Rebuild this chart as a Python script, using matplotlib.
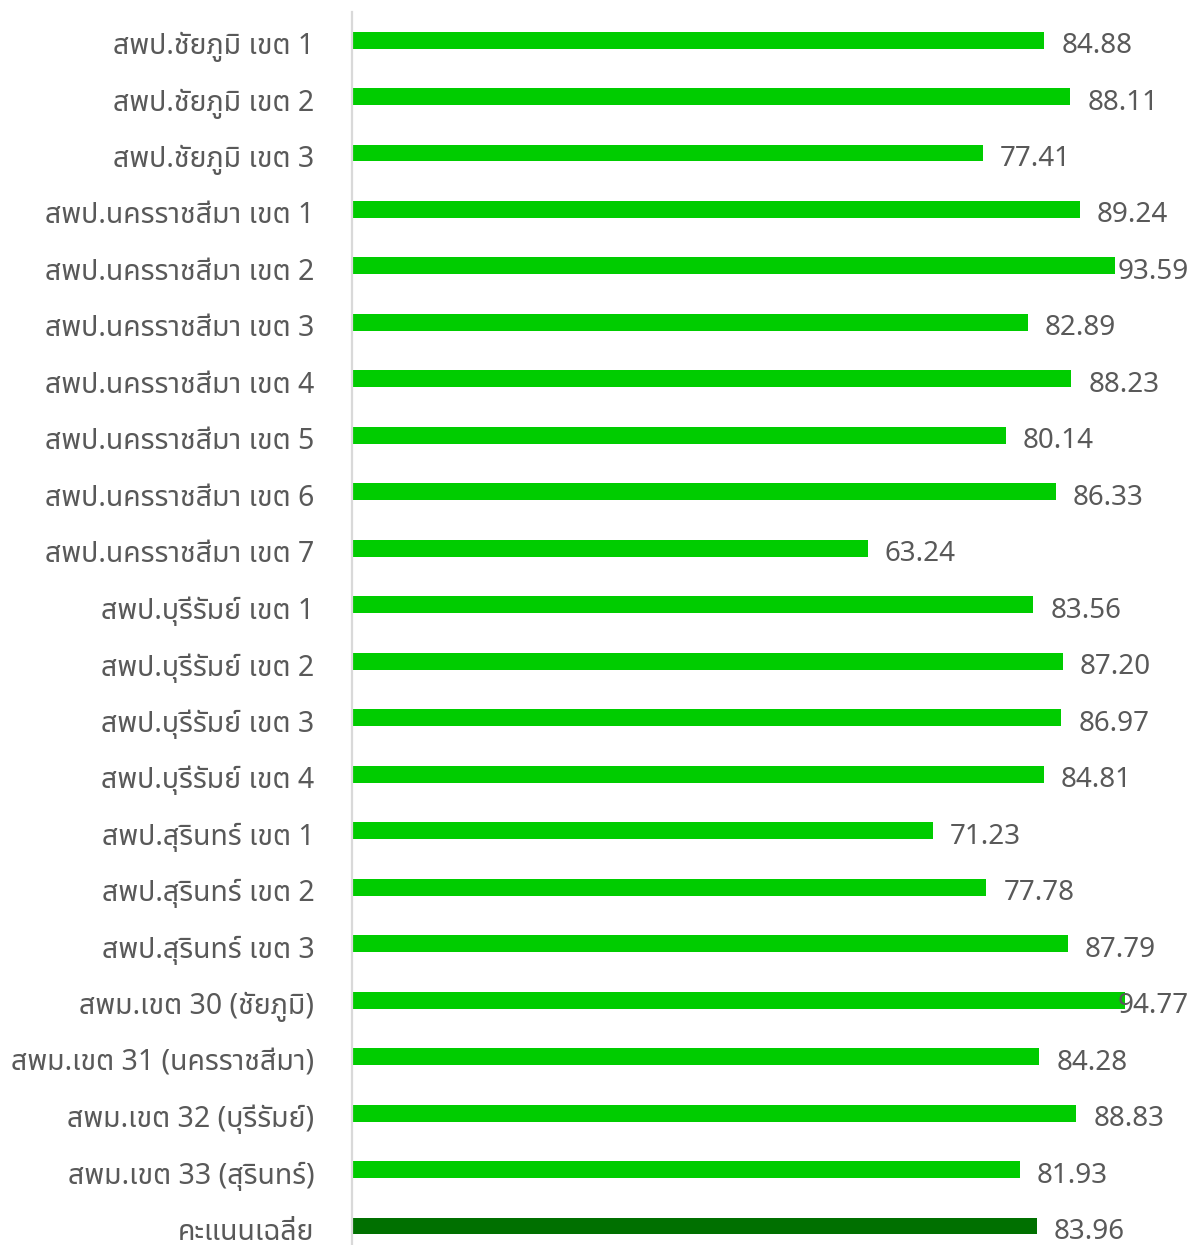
import matplotlib
matplotlib.use("Agg")
import matplotlib.pyplot as plt
import matplotlib.transforms as mtrans

plt.rcParams["font.family"] = ["Noto Sans Thai", "Sarabun", "DejaVu Sans"]
plt.rcParams["font.weight"] = "light"

labels = [
    "สพป.ชัยภูมิ เขต 1", "สพป.ชัยภูมิ เขต 2", "สพป.ชัยภูมิ เขต 3",
    "สพป.นครราชสีมา เขต 1", "สพป.นครราชสีมา เขต 2", "สพป.นครราชสีมา เขต 3",
    "สพป.นครราชสีมา เขต 4", "สพป.นครราชสีมา เขต 5", "สพป.นครราชสีมา เขต 6",
    "สพป.นครราชสีมา เขต 7",
    "สพป.บุรีรัมย์ เขต 1", "สพป.บุรีรัมย์ เขต 2", "สพป.บุรีรัมย์ เขต 3", "สพป.บุรีรัมย์ เขต 4",
    "สพป.สุรินทร์ เขต 1", "สพป.สุรินทร์ เขต 2", "สพป.สุรินทร์ เขต 3",
    "สพม.เขต 30 (ชัยภูมิ)", "สพม.เขต 31 (นครราชสีมา)", "สพม.เขต 32 (บุรีรัมย์)",
    "สพม.เขต 33 (สุรินทร์)", "คะแนนเฉลี่ย",
]
scores = [84.88, 88.11, 77.41, 89.24, 93.59, 82.89, 88.23, 80.14, 86.33, 63.24,
          83.56, 87.20, 86.97, 84.81, 71.23, 77.78, 87.79, 94.77, 84.28, 88.83,
          81.93, 83.96]

GREEN, DARK = "#00cc00", "#007000"
TXT = "#595959"

fig = plt.figure(figsize=(11.96, 12.45), dpi=100)
ax = fig.add_axes([0.2943, -0.0074, 0.7057, 0.9979])

y = list(range(len(labels)))
colors = [GREEN] * (len(labels) - 1) + [DARK]   # last row = average, darker
ax.barh(y, scores, height=0.30, color=colors)

xmax = 103.5
ax.set_xlim(0, xmax)
ax.set_ylim(len(labels) - 0.5, -0.5)
ax.set_yticks(y)
ax.set_yticklabels(labels, fontsize=20.5, color=TXT)
ax.tick_params(axis="y", length=0, pad=27)
ax.set_xticks([])
for s in ("top", "right", "bottom"):
    ax.spines[s].set_visible(False)
ax.spines["left"].set_color("#d9d9d9")
ax.spines["left"].set_linewidth(1.6)

# nudge tick labels down a little, like the original
shift = mtrans.ScaledTranslation(0, -3 / 100, fig.dpi_scale_trans)
for t in ax.get_yticklabels():
    t.set_transform(t.get_transform() + shift)

# value labels; the two longest bars get pushed back inside the plot edge
for yi, v in zip(y, scores):
    if v > 92:
        ax.annotate(f"{v:.2f}", (xmax, yi), xytext=(-7, -6), textcoords="offset pixels",
                    ha="right", va="center", fontsize=20, color=TXT)
    else:
        ax.annotate(f"{v:.2f}", (v, yi), xytext=(17, -6), textcoords="offset pixels",
                    ha="left", va="center", fontsize=20, color=TXT)

fig.savefig("out.png", dpi=100)
